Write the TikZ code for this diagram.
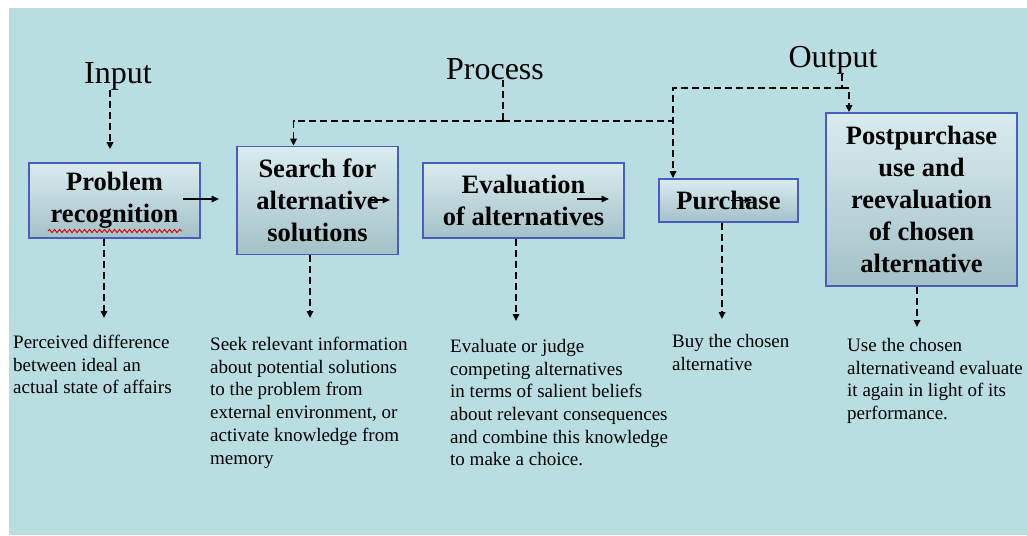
\documentclass[tikz,border=0pt]{standalone}
\usepackage{fontspec}
\setmainfont{Liberation Serif}
\usetikzlibrary{arrows.meta,decorations.pathmorphing}
\definecolor{panel}{HTML}{B9DEE2}
\definecolor{boxline}{HTML}{4A5CBF}
\definecolor{boxtop}{HTML}{D9ECEF}
\definecolor{boxbot}{HTML}{A3C1C8}
\begin{document}
\begin{tikzpicture}[x=1pt,y=-1pt,
  stage/.style={draw=boxline, line width=1.8pt, top color=boxtop, bottom color=boxbot,
    inner sep=0pt, align=center, font=\fontsize{26.5}{32}\selectfont\bfseries},
  heading/.style={anchor=base, inner sep=0pt, font=\fontsize{32}{38}\selectfont},
  note/.style={anchor=north west, inner sep=0pt, align=left, font=\fontsize{19}{22.7}\selectfont},
  dashline/.style={line width=1.6pt, dash pattern=on 7pt off 4pt},
  dasharrow/.style={dashline, -{Triangle[length=7pt,width=6.5pt]}},
  flow/.style={line width=1.5pt, -{Triangle[length=7.5pt,width=6.5pt]}}
]
% canvas
\useasboundingbox (0,0) rectangle (1027,535);
\fill[white] (0,0) rectangle (1027,535);
\fill[panel] (9,8) rectangle (1027,535);

% stages
\node[stage, minimum width=171pt, minimum height=75pt] (prob) at (114.5,200.5) {Problem\\recognition};
\node[stage, minimum width=161pt, minimum height=108pt] (search) at (317.5,200.5) {Search for\\alternative\\solutions};
\node[stage, minimum width=201pt, minimum height=75pt] (eval) at (523.5,200.5) {Evaluation\\of alternatives};
\node[stage, minimum width=139pt, minimum height=43pt] (buy) at (728.5,200.5) {Purchase};
\node[stage, minimum width=191pt, minimum height=173pt] (post) at (921.5,199.5) {Postpurchase\\use and\\reevaluation\\of chosen\\alternative};

% headings
\node[heading] (inp) at (118,83) {Input};
\node[heading] (proc) at (495,79) {Process};
\node[heading] (outp) at (833,67) {Output};

% descriptions
\node[note] (n1) at (13,335) {Perceived difference\\between ideal an\\actual state of affairs};
\node[note] (n2) at (210,337) {Seek relevant information\\about potential solutions\\to the problem from\\external environment, or\\activate knowledge from\\memory};
\node[note] (n3) at (450,339) {Evaluate or judge\\competing alternatives\\in terms of salient beliefs\\about relevant consequences\\and combine this knowledge\\to make a choice.};
\node[note] (n4) at (672,334) {Buy the chosen\\alternative};
\node[note] (n5) at (847,338) {Use the chosen\\alternativeand evaluate\\it again in light of its\\performance.};

% spell-check underline
\coordinate (sq1) at (48,231);
\coordinate (sq2) at (182,231);
\draw[red!85!black, line width=0.9pt, decorate, decoration={snake, amplitude=1.6pt, segment length=5pt}] (sq1) -- (sq2);

% flow arrows between stages
\coordinate (f1a) at (183,199); \coordinate (f1b) at (219,199);
\coordinate (f2a) at (369,200); \coordinate (f2b) at (390,200);
\coordinate (f3a) at (577,199); \coordinate (f3b) at (609,199);
\coordinate (f4a) at (731,200); \coordinate (f4b) at (752,200);
\draw[flow] (f1a) -- (f1b);
\draw[flow] (f2a) -- (f2b);
\draw[flow] (f3a) -- (f3b);
\draw[flow, line width=1pt] (f4a) -- (f4b);

% input
\draw[dasharrow, shorten >=13pt] ([xshift=-8pt]inp.south) -- ([xshift=-8pt]inp.south |- prob.north);

% process
\coordinate (pj) at (503,121);
\coordinate (oj) at (842,88);
\coordinate (bj) at (673,121);
\draw[dashline] ([xshift=8pt]proc.south) -- (pj);
\draw[dasharrow] (pj) -| ([xshift=-24pt]search.north);
\draw[dashline] (pj) -- (bj);

% output
\draw[dashline] ([xshift=9pt]outp.south) -- (oj);
\draw[dasharrow] (oj) -| ([xshift=-55.5pt]buy.north);
\draw[dasharrow] (oj) -| ([xshift=-72.5pt]post.north);

% stage to description
\coordinate (d1) at (104,318);
\coordinate (d2) at (310,318);
\coordinate (d3) at (516,321);
\coordinate (d4) at (722,319);
\coordinate (d5) at (917,327);
\draw[dasharrow] (prob.south -| d1) -- (d1);
\draw[dasharrow] (search.south -| d2) -- (d2);
\draw[dasharrow] (eval.south -| d3) -- (d3);
\draw[dasharrow] (buy.south -| d4) -- (d4);
\draw[dasharrow] (post.south -| d5) -- (d5);
\end{tikzpicture}
\end{document}
